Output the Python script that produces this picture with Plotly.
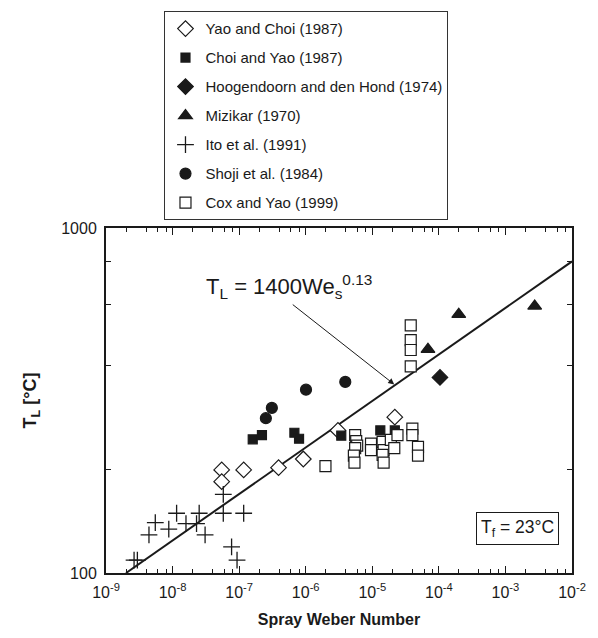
import plotly.graph_objects as go

# ---- data ----
yao_choi_we = [5.47e-8, 5.47e-8, 1.17e-7, 3.91e-7, 9.2e-7, 3.05e-6, 2.18e-5]
yao_choi_t = [199, 184, 199, 202, 214, 259, 283]

choi_yao_we = [1.6e-7, 2.2e-7, 6.76e-7, 7.94e-7, 3.42e-6, 1.32e-5, 2.18e-5]
choi_yao_t = [244, 251, 255, 245, 250, 259, 259]

hoog_we = [1.04e-4]
hoog_t = [369]

mizikar_we = [6.86e-5, 1.99e-4, 2.75e-3]
mizikar_t = [445, 562, 594]

ito_we = [2.64e-9, 2.96e-9, 4.42e-9, 5.5e-9, 8.77e-9, 1.15e-8, 1.59e-8, 2.29e-8,
          2.51e-8, 3.08e-8, 5.78e-8, 5.78e-8, 7.7e-8, 9.3e-8, 1.17e-7]
ito_t = [109, 109, 129, 140, 134, 149, 139, 139, 149, 129, 169, 149, 119, 109, 149]

shoji_we = [2.52e-7, 3.1e-7, 1.01e-6, 3.93e-6]
shoji_t = [281, 301, 340, 358]

cox_we = [3.78e-5, 3.78e-5, 3.78e-5, 3.78e-5,
          1.98e-6, 5.53e-6, 5.73e-6, 5.93e-6, 5.53e-6, 5.29e-6, 5.4e-6,
          9.57e-6, 9.57e-6, 1.43e-5, 1.48e-5, 1.43e-5, 1.48e-5,
          1.9e-5, 2.14e-5, 2.39e-5, 4.0e-5, 4.0e-5, 4.86e-5, 4.86e-5]
cox_t = [522, 473, 443, 397,
         204, 251, 241, 234, 230, 219, 209,
         237, 227, 240, 227, 220, 209,
         243, 230, 251, 262, 251, 232, 219]

fit_we = [2e-9, 1e-2]
fit_t = [100, 800]

x_tickvals = [1e-9, 1e-8, 1e-7, 1e-6, 1e-5, 1e-4, 1e-3, 1e-2]
x_ticktext = ["10<sup>-9</sup>", "10<sup>-8</sup>", "10<sup>-7</sup>", "10<sup>-6</sup>",
              "10<sup>-5</sup>", "10<sup>-4</sup>", "10<sup>-3</sup>", "10<sup>-2</sup>"]
y_tickvals = [100, 1000]
y_ticktext = ["100", "1000"]
y_minor = [200, 400, 600, 800]
x_minor = [m * 10.0 ** e for e in range(-9, -2) for m in (2, 4, 6, 8)]

FONT = "Arial, Liberation Sans, sans-serif"
BLK = "#1a1a1a"

fig = go.Figure()

fig.add_trace(go.Scatter(x=fit_we, y=fit_t, mode="lines", line=dict(color=BLK, width=2),
                         showlegend=False, hoverinfo="skip"))

def add(name, xs, ys, symbol, size, filled=True):
    fig.add_trace(go.Scatter(
        x=xs, y=ys, mode="markers", name=name, legendgroup=name,
        marker=dict(symbol=symbol, size=size,
                    color=BLK if filled else "white",
                    line=dict(color=BLK, width=1.2))))

add("Yao and Choi (1987)", yao_choi_we, yao_choi_t, "diamond", 12, filled=False)
add("Choi and Yao (1987)", choi_yao_we, choi_yao_t, "square", 9)
add("Hoogendoorn and den Hond (1974)", hoog_we, hoog_t, "diamond", 12)
add("Mizikar (1970)", mizikar_we, mizikar_t, "triangle-up", 12)
fig.add_trace(go.Scatter(x=ito_we, y=ito_t, mode="markers", name="Ito et al. (1991)",
                         legendgroup="ito",
                         marker=dict(symbol="cross-thin", size=12,
                                     line=dict(color=BLK, width=1.3))))
add("Shoji et al. (1984)", shoji_we, shoji_t, "circle", 11)
add("Cox and Yao (1999)", cox_we, cox_t, "square", 11, filled=False)

axis_common = dict(showline=True, linewidth=2, linecolor=BLK, mirror="ticks",
                   ticks="inside", tickcolor=BLK, showgrid=False, zeroline=False,
                   tickfont=dict(family=FONT, size=16, color=BLK))

fig.update_xaxes(type="log", range=[-9, -2], tickmode="array",
                 tickvals=x_tickvals, ticktext=x_ticktext, ticklen=7, tickwidth=1,
                 ticklabelstandoff=4,
                 minor=dict(tickmode="array", tickvals=x_minor, ticks="inside",
                            ticklen=4, tickcolor=BLK, tickwidth=1),
                 title=dict(text="<b>Spray Weber Number</b>", standoff=14,
                            font=dict(family=FONT, size=16, color=BLK)),
                 **axis_common)
fig.update_yaxes(type="log", range=[2, 3], tickmode="array",
                 tickvals=y_tickvals, ticktext=y_ticktext, ticklen=7, tickwidth=1,
                 ticklabelstandoff=4,
                 minor=dict(tickmode="array", tickvals=y_minor, ticks="inside",
                            ticklen=5, tickcolor=BLK, tickwidth=1),
                 title=dict(text="<b>T<sub>L</sub> [°C]</b>", standoff=20,
                            font=dict(family=FONT, size=18, color=BLK)),
                 **axis_common)

# correlation label and arrow
fig.add_annotation(xref="paper", yref="paper", x=0.21, y=0.83, xanchor="left", yanchor="middle",
                   text="T<sub>L</sub> = 1400We<sub>s</sub><sup>0.13</sup>", showarrow=False,
                   font=dict(family=FONT, size=22, color=BLK))
fig.add_annotation(x=-4.67, y=2.5466, text="", showarrow=True, arrowhead=2, arrowsize=1.2,
                   arrowwidth=1, arrowcolor=BLK, ax=-103, ay=-81)
# Tf box
fig.add_annotation(xref="paper", yref="paper", x=0.973, y=0.08, xanchor="right", yanchor="bottom",
                   text="T<sub>f</sub> = 23°C", showarrow=False, bordercolor=BLK, borderwidth=1,
                   borderpad=4, bgcolor="white", font=dict(family=FONT, size=17.5, color=BLK))

fig.update_layout(
    width=598, height=638,
    margin=dict(l=106, r=22, t=223, b=65),
    paper_bgcolor="white", plot_bgcolor="white",
    font=dict(family=FONT, color=BLK),
    legend=dict(x=0.1255, y=1.628, xanchor="left", yanchor="top", traceorder="grouped",
                bgcolor="white", bordercolor="#333", borderwidth=1,
                font=dict(family=FONT, size=15, color=BLK), tracegroupgap=6.5),
)

fig.write_html("out.html")
